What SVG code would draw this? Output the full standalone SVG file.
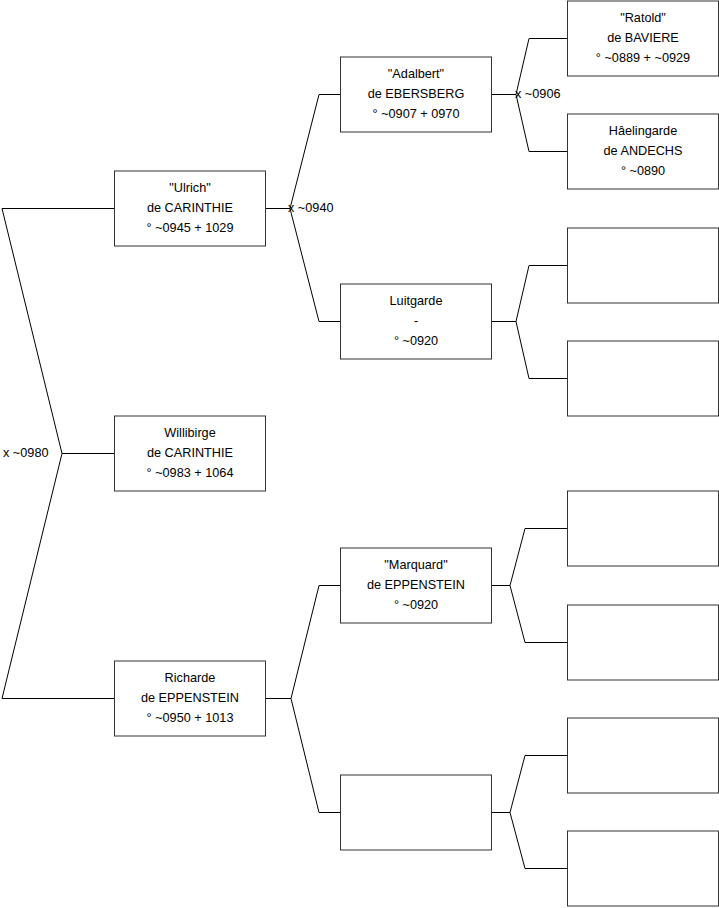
<svg xmlns="http://www.w3.org/2000/svg" width="719" height="908" viewBox="0 0 719 908">
<style>
.box{fill:#fff;stroke:#333;stroke-width:1}
.c{fill:none;stroke:#000;stroke-width:1}
text{font-family:"Liberation Sans",Arial,sans-serif;font-size:12.7px;fill:#000}
.t{text-anchor:middle}
</style>
<rect width="719" height="908" fill="#fff"/>
<g id="connectors">
<path class="c" d="M2,208.5 H114 M2,208.5 L62,453.5 L2,698.5 H114 M62,453.5 H114"/>
<path class="c" d="M265,208.5 H290 M340,94.5 H319 L290,208.5 L319,321.5 H340"/>
<path class="c" d="M265,698.5 H291 M340,585.5 H319 L291,698.5 L319,812.5 H340"/>
<path class="c" d="M491,94.5 H516 M567,38.5 H529 L516,94.5 L529,151.5 H567"/>
<path class="c" d="M491,321.5 H516 M567,265.5 H529 L516,321.5 L529,378.5 H567"/>
<path class="c" d="M491,585.5 H510 M567,528.5 H525 L510,585.5 L525,642.5 H567"/>
<path class="c" d="M491,812.5 H510 M567,755.5 H525 L510,812.5 L525,868.5 H567"/>
<text x="3" y="457">x ~0980</text>
<text x="288" y="212">x ~0940</text>
<text x="515" y="98">x ~0906</text>
</g>
<g id="willibirge"><rect class="box" x="114.5" y="416" width="151" height="75"/>
<text class="t" x="190" y="437">Willibirge</text><text class="t" x="190" y="457">de CARINTHIE</text><text class="t" x="190" y="477">° ~0983 + 1064</text></g>
<g id="ulrich"><rect class="box" x="114.5" y="171" width="151" height="75"/>
<text class="t" x="190" y="192">"Ulrich"</text><text class="t" x="190" y="212">de CARINTHIE</text><text class="t" x="190" y="232">° ~0945 + 1029</text></g>
<g id="richarde"><rect class="box" x="114.5" y="661" width="151" height="75"/>
<text class="t" x="190" y="682">Richarde</text><text class="t" x="190" y="702">de EPPENSTEIN</text><text class="t" x="190" y="722">° ~0950 + 1013</text></g>
<g id="adalbert"><rect class="box" x="340.5" y="57" width="151" height="75"/>
<text class="t" x="416" y="78">"Adalbert"</text><text class="t" x="416" y="98">de EBERSBERG</text><text class="t" x="416" y="118">° ~0907 + 0970</text></g>
<g id="luitgarde"><rect class="box" x="340.5" y="284" width="151" height="75"/>
<text class="t" x="416" y="305">Luitgarde</text><text class="t" x="416" y="325">-</text><text class="t" x="416" y="345">° ~0920</text></g>
<g id="marquard"><rect class="box" x="340.5" y="548" width="151" height="75"/>
<text class="t" x="416" y="569">"Marquard"</text><text class="t" x="416" y="589">de EPPENSTEIN</text><text class="t" x="416" y="609">° ~0920</text></g>
<g id="empty2"><rect class="box" x="340.5" y="775" width="151" height="75"/></g>
<g id="ratold"><rect class="box" x="567.5" y="1" width="151" height="75"/>
<text class="t" x="643" y="22">"Ratold"</text><text class="t" x="643" y="42">de BAVIERE</text><text class="t" x="643" y="62">° ~0889 + ~0929</text></g>
<g id="haelingarde"><rect class="box" x="567.5" y="114" width="151" height="75"/>
<text class="t" x="643" y="135">Hâelingarde</text><text class="t" x="643" y="155">de ANDECHS</text><text class="t" x="643" y="175">° ~0890</text></g>
<g id="e3"><rect class="box" x="567.5" y="228" width="151" height="75"/></g>
<g id="e4"><rect class="box" x="567.5" y="341" width="151" height="75"/></g>
<g id="e5"><rect class="box" x="567.5" y="491" width="151" height="75"/></g>
<g id="e6"><rect class="box" x="567.5" y="605" width="151" height="75"/></g>
<g id="e7"><rect class="box" x="567.5" y="718" width="151" height="75"/></g>
<g id="e8"><rect class="box" x="567.5" y="831" width="151" height="75"/></g>
</svg>
